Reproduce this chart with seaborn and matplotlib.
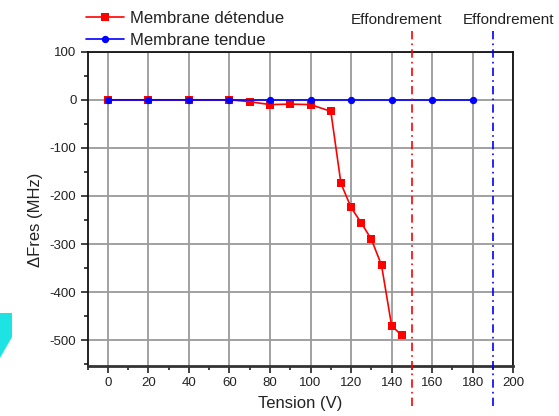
import matplotlib
matplotlib.use("Agg")
import matplotlib.pyplot as plt
import matplotlib.transforms as mtransforms
from matplotlib.patches import Polygon
from matplotlib.ticker import MultipleLocator
import seaborn as sns
import pandas as pd

# Resonance-frequency shift versus applied voltage
tension_detendue = [0, 20, 40, 60, 70, 80, 90, 100, 110, 115, 120, 125, 130, 135, 140, 145]
dfres_detendue = [0, 0, 0, 0, -4, -10, -9, -10, -24, -174, -224, -256, -290, -344, -470, -490]

tension_tendue = [0, 20, 40, 60, 80, 100, 120, 140, 160, 180]
dfres_tendue = [0, 0, 0, 0, 0, 0, 0, 0, 0, 0]

collapse_voltages = [150, 190]
collapse_colors = ["#ff0000", "#0000ff"]
collapse_label = "Effondrement"
collapse_text_x = [120, 175]

label_detendue = "Membrane détendue"
label_tendue = "Membrane tendue"

sns.set_style("ticks")
plt.rcParams["font.family"] = ["Liberation Sans", "DejaVu Sans"]
plt.rcParams["axes.unicode_minus"] = False

W, H = 559, 416
fig = plt.figure(figsize=(W / 100, H / 100), dpi=100)
ax = fig.add_axes([87.5 / W, 1 - 365.7 / H, (513.3 - 87.5) / W, (365.7 - 51.7) / H])

df_d = pd.DataFrame({"Tension": tension_detendue, "dF": dfres_detendue})
df_t = pd.DataFrame({"Tension": tension_tendue, "dF": dfres_tendue})

sns.lineplot(data=df_d, x="Tension", y="dF", ax=ax, color="#ff0000", marker="s",
             markersize=5.5, markeredgewidth=0, linewidth=1.2, label=label_detendue,
             zorder=4)
sns.lineplot(data=df_t, x="Tension", y="dF", ax=ax, color="#0000ff", marker="o",
             markersize=5.3, markeredgewidth=0, linewidth=1.2, label=label_tendue,
             zorder=5)

ax.set_xlim(-10, 200)
ax.set_ylim(-553, 100)
ax.xaxis.set_major_locator(MultipleLocator(20))
ax.xaxis.set_minor_locator(MultipleLocator(10))
ax.yaxis.set_major_locator(MultipleLocator(100))
ax.yaxis.set_minor_locator(MultipleLocator(50))

ax.grid(True, which="major", color="#9a9a9a", linewidth=1.3)
ax.set_axisbelow(True)

ax.tick_params(axis="both", which="major", direction="out", length=5, width=1.2,
               labelsize=9.5, colors="#222222", pad=3)
ax.tick_params(axis="both", which="minor", direction="out", length=3, width=1.2,
               colors="#222222")
ax.tick_params(top=False, right=False, which="both")

for side in ["top", "right", "left"]:
    ax.spines[side].set_color("#111111")
    ax.spines[side].set_linewidth(1.3)
ax.spines["bottom"].set_color("#333333")
ax.spines["bottom"].set_linewidth(2.0)

ax.set_xlabel("Tension (V)", fontsize=12, color="#222222", va="center")
ax.set_ylabel("ΔFres (MHz)", fontsize=12, color="#222222", va="center")
ax.xaxis.set_label_coords(0.5, -0.12)
ax.yaxis.set_label_coords(-0.123, 0.464)

# Collapse voltage markers, extending past the plotting area
trans = mtransforms.blended_transform_factory(ax.transData, ax.transAxes)
for v, c, tx in zip(collapse_voltages, collapse_colors, collapse_text_x):
    ax.plot([v, v], [-0.128, 1.075], transform=trans, color=c, linewidth=1.2,
            linestyle=(0, (5, 2.5, 1, 2.5)), clip_on=False, zorder=6)
    ax.text(tx, 1.101, collapse_label, transform=trans, ha="left", va="center",
            fontsize=11, color="#222222")

ax.get_legend().remove()
handles, labels = ax.get_legend_handles_labels()
fig.legend(handles, labels, loc="upper left", bbox_to_anchor=(86 / W, 1 - 11 / H),
           frameon=False, fontsize=12, handlelength=2.27, handletextpad=0.35,
           borderpad=0, borderaxespad=0, labelspacing=0.4, labelcolor="#222222")

# Cyan fragment at the left edge
fig.patches.append(Polygon([(0, 1 - 313 / H), (12 / W, 1 - 313 / H),
                            (12 / W, 1 - 337 / H), (0, 1 - 358 / H)],
                           closed=True, transform=fig.transFigure,
                           facecolor="#1ee3e3", edgecolor="none"))

fig.savefig("out.png", dpi=100)
